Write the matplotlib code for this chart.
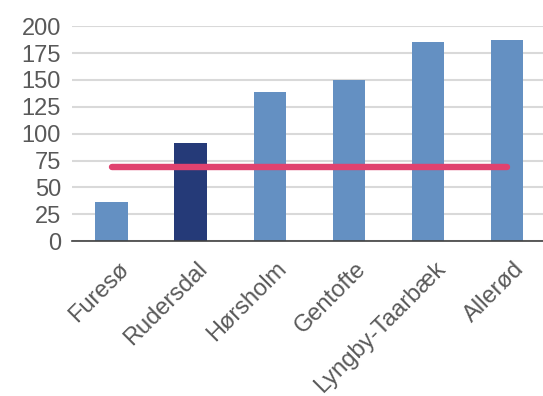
import matplotlib.pyplot as plt
import matplotlib.transforms as mtransforms

# Data
municipalities = ["Furesø", "Rudersdal", "Hørsholm", "Gentofte", "Lyngby-Taarbæk", "Allerød"]
values = [36, 91, 139, 150, 185, 187]
highlight = "Rudersdal"
reference_value = 69

plt.rcParams["font.family"] = ["Liberation Sans", "DejaVu Sans"]

fig = plt.figure(figsize=(5.43, 3.96), dpi=100)
ax = fig.add_axes([0.1326, 0.391, 0.874, 0.543])

colors = ["#253A78" if m == highlight else "#6490C2" for m in municipalities]
x = range(len(municipalities))
ax.bar(x, values, width=0.41, color=colors, zorder=2)

# reference line spanning first to last category
ax.plot([0, len(municipalities) - 1], [reference_value] * 2, color="#E0426F",
        linewidth=4.6, solid_capstyle="round", zorder=3)

ax.set_xlim(-0.5, len(municipalities) - 0.5)
ax.set_ylim(0, 200)
ax.set_yticks(range(0, 201, 25))
ax.yaxis.grid(True, color="#D9D9D9", linewidth=1.5, zorder=0)
ax.set_axisbelow(True)

for side in ["top", "right", "left"]:
    ax.spines[side].set_visible(False)
ax.spines["bottom"].set_color("#404040")
ax.spines["bottom"].set_linewidth(1.2)

ax.tick_params(axis="both", length=0, labelsize=17, labelcolor="#595959")
ax.tick_params(axis="y", pad=8)
ax.set_xticks(list(x))
ax.set_xticklabels(municipalities, rotation=45, ha="right", rotation_mode="anchor")

# nudge the rotated labels a little right and down
offset = mtransforms.ScaledTranslation(0.06, -0.12, fig.dpi_scale_trans)
for label in ax.get_xticklabels():
    label.set_transform(label.get_transform() + offset)

fig.savefig("out.png", dpi=100)
